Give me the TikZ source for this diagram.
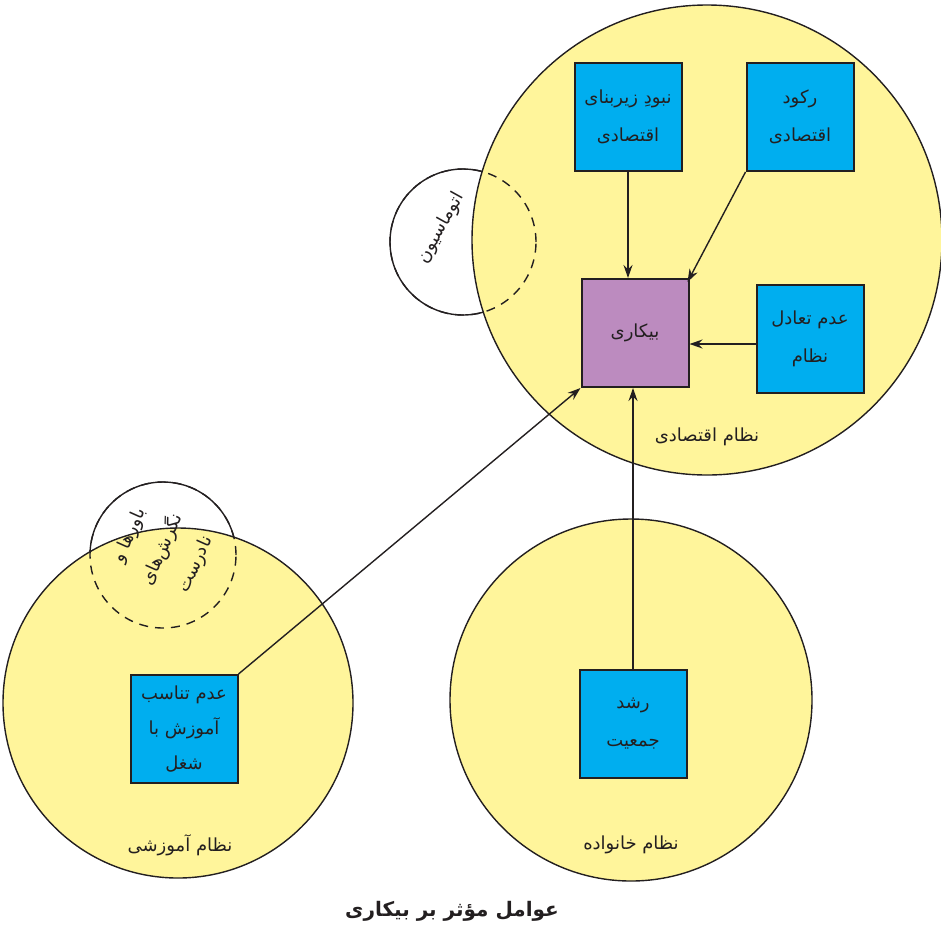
\documentclass[tikz,border=0pt]{standalone}
\usepackage{fontspec}
\newfontfamily\farsifont[Script=Arabic]{DejaVu Sans}
\TeXXeTstate=1
\usetikzlibrary{arrows.meta,positioning}
\definecolor{SysYellow}{HTML}{FFF59B}
\definecolor{FactorBlue}{HTML}{00AEEF}
\definecolor{CorePurple}{HTML}{BC8BBF}
\definecolor{InkDark}{HTML}{231F20}
\newcommand{\fa}[1]{\beginR #1\endR}
\tikzset{
  sys/.style={circle, draw=InkDark, fill=SysYellow, line width=1.4pt, inner sep=0pt},
  side/.style={circle, draw=InkDark, line width=1.4pt, inner sep=0pt, minimum size=146pt},
  factor/.style={draw=InkDark, fill=FactorBlue, line width=2pt, minimum width=107pt, minimum height=108pt,
    align=center, text=InkDark, font=\farsifont\fontsize{18}{38}\selectfont},
  core/.style={factor, fill=CorePurple},
  syslabel/.style={text=InkDark, font=\farsifont\fontsize{18}{22}\selectfont},
  sidelabel/.style={text=InkDark, align=center, font=\farsifont\fontsize{18}{36}\selectfont},
  arr/.style={-{Stealth[length=13pt,width=9pt]}, line width=1.4pt, draw=InkDark}
}
\begin{document}
\begin{tikzpicture}[x=1pt,y=-1pt]
\useasboundingbox (0,0) rectangle (941,927);
% side circles, solid part
\node[side] (auto) at (463,242) {};
\node[side] (belief) at (163,555) {};
% systems
\node[sys, minimum size=470pt] (econ) at (707,240) {};
\node[sys, minimum size=350pt] (edu) at (178,703) {};
\node[sys, minimum size=362pt] (family) at (631,700) {};
% side circles, dashed part
\draw[InkDark, line width=1.4pt, dash pattern=on 9pt off 7pt] (auto.center) circle (73pt);
\draw[InkDark, line width=1.4pt, dash pattern=on 9pt off 7pt] (belief.center) circle (73pt);
\node[sidelabel, rotate=61] (autotext) at (441,228) {\fa{اتوماسیون}};
\node[sidelabel, rotate=66] (belieftext) at (163,550) {\fa{باورها و}\\\fa{نگرش‌های}\\\fa{نادرست}};
% factors
\node[core] (bikari) at (635,333) {\fa{بیکاری}};
\node[factor] (nabud) at (628,117) {\fa{نبودِ زیربنای}\\\fa{اقتصادی}};
\node[factor] (rokud) at (800,117) {\fa{رکود}\\\fa{اقتصادی}};
\node[factor] (taadol) at (810,339) {\fa{عدم تعادل}\\\fa{نظام}};
\node[factor] (tanasob) at (184,729) {\fa{عدم تناسب}\\[-3pt]\fa{آموزش با}\\[-3pt]\fa{شغل}};
\node[factor] (roshd) at (633,724) {\fa{رشد}\\\fa{جمعیت}};
% labels
\node[syslabel] (econlabel) at (707,437) {\fa{نظام اقتصادی}};
\node[syslabel] (edulabel) at (180,845) {\fa{نظام آموزشی}};
\node[syslabel] (familylabel) at (631,845) {\fa{نظام خانواده}};
\node[text=InkDark, font=\farsifont\bfseries\fontsize{20}{24}\selectfont] (title) at (452,911) {\fa{عوامل مؤثر بر بیکاری}};
% arrows
\draw[arr] (nabud.south) -- (nabud.south |- bikari.north);
\draw[arr] (rokud.south west) -- ([xshift=-2pt,yshift=-4pt]bikari.north east);
\draw[arr] ([yshift=-5pt]taadol.west) -- ([yshift=-5pt]taadol.west -| bikari.east);
\draw[arr] (tanasob.north east) -- (bikari.south west);
\draw[arr] (roshd.north) -- (roshd.north |- bikari.south);
\end{tikzpicture}
\end{document}
